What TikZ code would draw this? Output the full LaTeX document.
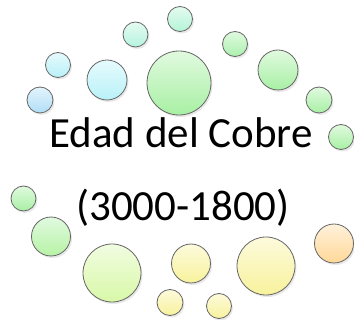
\documentclass[tikz,border=0pt]{standalone}
\usepackage{fontspec}
\setmainfont{Carlito}
\usepackage{tikz}
\usetikzlibrary{positioning,shadows}
\definecolor{skyb}{RGB}{176,222,246}
\definecolor{cyanb}{RGB}{184,242,248}
\definecolor{mintb}{RGB}{180,244,214}
\definecolor{greenb}{RGB}{168,240,164}
\definecolor{limeb}{RGB}{216,248,168}
\definecolor{yellb}{RGB}{248,242,156}
\definecolor{orangeb}{RGB}{255,216,152}

\begin{document}
\begin{tikzpicture}[x=1pt,y=-1pt,
  bubble/.style={circle,draw=black!60,line width=0.8pt,inner sep=0pt,
    drop shadow={opacity=0.18,shadow xshift=1.5pt,shadow yshift=-2pt}},
  label/.style={anchor=base,font=\fontsize{43}{46}\selectfont,inner sep=0pt}]
\useasboundingbox (0,0) rectangle (354,320);

% upper arc
\node[bubble,minimum size=26pt,top color=skyb!35,bottom color=skyb] (b1) at (40,100) {};
\node[bubble,minimum size=25pt,top color=cyanb!35,bottom color=cyanb!90!skyb] (b2) at (58,65) {};
\node[bubble,minimum size=40pt,top color=cyanb!35,bottom color=cyanb] (b3) at (107,80) {};
\node[bubble,minimum size=25pt,top color=mintb!35,bottom color=mintb!70!cyanb] (b4) at (135.5,34.5) {};
\node[bubble,minimum size=25pt,top color=mintb!35,bottom color=mintb] (b5) at (180,19) {};
\node[bubble,minimum size=64pt,top color=greenb!35,bottom color=greenb] (b6) at (179,83) {};
\node[bubble,minimum size=25pt,top color=greenb!35,bottom color=greenb!80!mintb] (b7) at (235,44) {};
\node[bubble,minimum size=40pt,top color=greenb!35,bottom color=greenb] (b8) at (278,70) {};
\node[bubble,minimum size=26pt,top color=greenb!35,bottom color=greenb] (b9) at (319,100) {};
\node[bubble,minimum size=25pt,top color=greenb!35,bottom color=greenb] (b10) at (341,137) {};

% lower arc
\node[bubble,minimum size=25pt,top color=greenb!35,bottom color=greenb] (b11) at (23.5,198.5) {};
\node[bubble,minimum size=39pt,top color=greenb!35,bottom color=greenb!70!limeb] (b12) at (51,236.5) {};
\node[bubble,minimum size=58pt,top color=limeb!35,bottom color=limeb] (b13) at (112,273) {};
\node[bubble,minimum size=26pt,top color=yellb!35,bottom color=yellb] (b14) at (170,302.5) {};
\node[bubble,minimum size=39pt,top color=yellb!35,bottom color=yellb] (b15) at (191,263.5) {};
\node[bubble,minimum size=25pt,top color=yellb!35,bottom color=yellb] (b16) at (219,306) {};
\node[bubble,minimum size=58pt,top color=yellb!35,bottom color=yellb] (b17) at (266,266) {};
\node[bubble,minimum size=39pt,top color=orangeb!35,bottom color=orangeb] (b18) at (334,243.5) {};

\node[label] (name) at (181,148) {Edad del Cobre};
\node[label] (years) at (183,221) {(3000-1800)};

\end{tikzpicture}
\end{document}
